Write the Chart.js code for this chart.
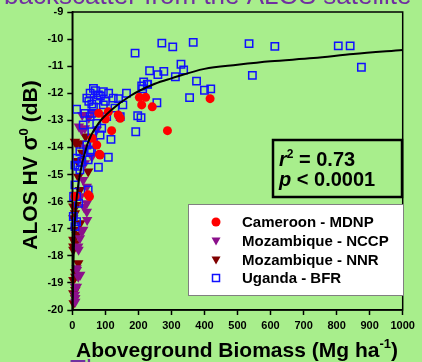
<!DOCTYPE html>
<html><head><meta charset="utf-8">
<script src="https://cdn.jsdelivr.net/npm/chart.js@4.4.0/dist/chart.umd.min.js"></script>
<style>html,body{margin:0;padding:0;background:#a8ee8c;overflow:hidden}canvas{display:block}</style>
</head><body>
<canvas id="c" width="422" height="362"></canvas>
<script>
// ---- data (biomass Mg/ha, backscatter dB) ----
const cameroonMDNP = [[203,-12.15],[222,-12.15],[210,-12.43],[242,-12.5],[417,-12.2],[288,-13.38],[119,-13.38],[109,-12.68],[139,-12.8],[74,-13.91],[84,-14.28],[48,-15.75],[8,-15.81],[82,-14.25],[52,-15.81],[80,-12.74],[145,-12.92],[60,-13.66],[100,-12.95]];
const mozambiqueNCCP = [[28,-13.35],[38,-13.29],[74,-13.35],[20,-13.23],[59,-14.34],[38,-14.58],[33,-15.2],[44,-15.45],[44,-16.06],[44,-16.37],[45,-16.68],[33,-17.04],[28,-17.1],[23,-17.35],[18,-17.66],[19,-17.78],[13,-18.46],[14,-18.52],[18,-18.77],[24,-18.7],[8,-19.14],[14,-19.14],[8,-19.44],[9,-19.56],[30,-12.8],[50,-12.9],[60,-12.7],[40,-14.0],[25,-15.8],[35,-16.2],[9,-19.7]];
const mozambiqueNNR = [[8,-13.79],[23,-13.85],[13,-13.85],[48,-14.89],[18,-15.08],[23,-15.57],[8,-15.75],[13,-16.12],[3,-16.18],[8,-16.43],[3,-16.61],[24,-16.8],[8,-17.04],[13,-17.23],[3,-17.41],[9,-17.54],[3,-17.66],[3,-17.78],[18,-18.27],[8,-18.6],[9,-18.77],[3,-18.89],[9,-19.26],[3,-19.38],[8,-19.56],[4,-19.75],[30,-14.2],[15,-14.5],[40,-13.6]];
const ugandaBFR = [[190,-10.52],[271,-10.15],[304,-10.29],[366,-10.12],[535,-10.17],[613,-10.27],[805,-10.25],[841,-10.25],[875,-11.04],[545,-11.34],[329,-10.93],[337,-11.14],[234,-11.17],[277,-11.19],[259,-11.31],[312,-11.39],[376,-11.55],[216,-11.58],[228,-11.67],[213,-11.84],[400,-11.89],[419,-11.84],[355,-12.16],[256,-12.35],[198,-12.83],[192,-13.42],[208,-12.9],[164,-12.0],[153,-12.43],[145,-12.86],
  [64,-11.82],[94,-11.94],[54,-12.0],[79,-12.06],[44,-12.18],[124,-12.18],[210,-11.73],[227,-11.66],[13,-12.59],[38,-12.74],[64,-12.5],[94,-12.43],[129,-12.55],[54,-12.86],[74,-13.11],[33,-13.17],[89,-13.29],[59,-13.42],[84,-13.54],[117,-13.7],[64,-13.85],[44,-13.91],[23,-14.16],[54,-14.16],[109,-14.36],[13,-14.4],[8,-14.65],[79,-14.73],[23,-14.83],[48,-14.46],[8,-15.38],[13,-15.81],[3,-16.55],[13,-16.74],[8,-16.92],[59,-12.4],[74,-12.25],[104,-12.86],[59,-12.74],[29,-14.52],[58,-14.09],[4,-15.81],[19,-16.06],[48,-15.57],[17,-14.7],[70,-11.9],[85,-12.1],[100,-12.3],[110,-12.0],[50,-12.3],[140,-12.2]];
const fitCurve = [[1,-20],[3,-18.5],[6,-17.2],[10,-16.3],[20,-15.2],[45,-13.9],[80,-13.1],[120,-12.6],[175,-12.1],[250,-11.65],[300,-11.45],[400,-11.1],[500,-10.95],[600,-10.82],[730,-10.7],[850,-10.55],[1000,-10.4]];
const seriesLabels = ['Cameroon - MDNP','Mozambique - NCCP','Mozambique - NNR','Uganda - BFR'];
const xRange = [0,1000,100];
const yRange = [-20,-9,1];
const statsLines = [['r','2',' = 0.73'],['p','',' < 0.0001']];
const topText = 'backscatter from the ALOS satellite';
const bottomText = 'The';

const FONT = '"Liberation Sans", Arial, Helvetica, sans-serif';
const BG = '#a8ee8c';
const toXY = a => a.map(p => ({x:p[0], y:p[1]}));

const deco = {
  id:'deco',
  beforeDraw(chart){
    const c = chart.ctx;
    c.save();
    c.fillStyle = BG; c.fillRect(0,0,chart.width,chart.height);
    c.fillStyle = '#7030a0';
    c.font = '26px ' + FONT;
    c.textBaseline = 'alphabetic'; c.textAlign = 'left';
    c.fillText(topText, 4, 4);
    c.fillText(bottomText, 70, 378);
    c.restore();
  },
  afterDraw(chart){
    const c = chart.ctx, a = chart.chartArea;
    c.save();
    // plot frame
    c.strokeStyle = '#000'; c.lineWidth = 1.5;
    c.strokeRect(a.left, a.top, a.right - a.left, a.bottom - a.top);
    // stats box
    c.lineWidth = 2.5;
    c.strokeRect(273, 140, 129, 57);
    c.fillStyle = '#000'; c.textBaseline = 'alphabetic'; c.textAlign = 'left';
    const bl = [166, 186];
    statsLines.forEach((ln, i) => {
      let x = 279;
      c.font = 'italic bold 20px ' + FONT; c.fillText(ln[0], x, bl[i]); x += c.measureText(ln[0]).width;
      if (ln[1]) { c.font = 'bold 12px ' + FONT; c.fillText(ln[1], x, bl[i] - 8); x += c.measureText(ln[1]).width; }
      c.font = 'bold 20px ' + FONT; c.fillText(ln[2], x, bl[i]);
    });
    // legend box
    c.fillStyle = '#fff'; c.fillRect(188, 204, 216, 92);
    c.strokeStyle = '#808080'; c.lineWidth = 1; c.strokeRect(188.5, 204.5, 215, 91);
    const rows = [222, 241, 260, 278];
    const ds = chart.data.datasets;
    c.font = 'bold 15px ' + FONT; c.textBaseline = 'middle';
    seriesLabels.forEach((lab, i) => {
      const y = rows[i], x = 216;
      const d = ds.find(s => s.label === lab);
      if (i === 0) { c.fillStyle = d.backgroundColor; c.beginPath(); c.arc(x, y, 4.5, 0, Math.PI*2); c.fill(); }
      else if (i < 3) { c.fillStyle = d.backgroundColor; c.beginPath(); c.moveTo(x-4.5, y-3.5); c.lineTo(x+4.5, y-3.5); c.lineTo(x, y+4.5); c.closePath(); c.fill(); }
      else { c.strokeStyle = d.borderColor; c.lineWidth = 1.5; c.strokeRect(x-3.5, y-3.5, 7, 7); }
      c.fillStyle = '#000'; c.fillText(lab, 242, y + 1);
    });
    // axis titles
    c.textBaseline = 'alphabetic';
    const drawSeg = (segs, cx, by) => {
      let w = 0;
      segs.forEach(s => { c.font = 'bold ' + s[1] + 'px ' + FONT; w += c.measureText(s[0]).width; });
      let x = cx - w/2;
      segs.forEach(s => { c.font = 'bold ' + s[1] + 'px ' + FONT; c.fillText(s[0], x, by - s[2]); x += c.measureText(s[0]).width; });
    };
    c.fillStyle = '#000';
    drawSeg([['Aboveground Biomass (Mg ha',21,0],['-1',13,9],[')',21,0]], 237, 357);
    c.save();
    c.translate(36.5, 165); c.rotate(-Math.PI/2);
    drawSeg([['ALOS HV ',21,0],['\u03C3',22,0],['0',13,9],[' (dB)',21,0]], 0, 0);
    c.restore();
    c.restore();
  }
};

new Chart(document.getElementById('c'), {
  data:{ datasets:[
    {type:'line', label:'fit', data:toXY(fitCurve), borderColor:'#000', borderWidth:2, pointRadius:0, cubicInterpolationMode:'monotone', fill:false, order:0, clip:false},
    {type:'scatter', label:seriesLabels[0], data:toXY(cameroonMDNP), pointStyle:'circle', pointRadius:4.5, backgroundColor:'#ff0000', borderColor:'#ff0000', borderWidth:0, order:1, clip:false},
    {type:'scatter', label:seriesLabels[1], data:toXY(mozambiqueNCCP), pointStyle:'triangle', rotation:180, pointRotation:180, pointRadius:6, backgroundColor:'#8b108b', borderColor:'#8b108b', borderWidth:0, order:3, clip:false},
    {type:'scatter', label:seriesLabels[2], data:toXY(mozambiqueNNR), pointStyle:'triangle', rotation:180, pointRotation:180, pointRadius:6, backgroundColor:'#800000', borderColor:'#800000', borderWidth:0, order:4, clip:false},
    {type:'scatter', label:seriesLabels[3], data:toXY(ugandaBFR), pointStyle:'rect', pointRadius:5.2, backgroundColor:'rgba(0,0,0,0)', borderColor:'#1010ff', borderWidth:1.5, order:2, clip:false}
  ]},
  options:{
    responsive:false, animation:false, devicePixelRatio:1,
    layout:{padding:{left:0, right:19.3, top:12, bottom:0}},
    plugins:{legend:{display:false}, tooltip:{enabled:false}},
    scales:{
      x:{type:'linear', min:xRange[0], max:xRange[1],
        ticks:{stepSize:xRange[2], color:'#000', font:{family:FONT, size:11, weight:'bold'}, padding:4, maxRotation:0, autoSkip:false, callback:v => String(v)},
        grid:{drawOnChartArea:false, drawTicks:true, tickLength:5, tickColor:'#000', tickWidth:1.5},
        border:{color:'#000', width:1.5},
        afterFit(s){ s.height = 52; }
      },
      y:{type:'linear', min:yRange[0], max:yRange[1],
        ticks:{stepSize:yRange[2], color:'#000', font:{family:FONT, size:11, weight:'bold'}, padding:4, callback:v => String(v)},
        grid:{drawOnChartArea:false, drawTicks:true, tickLength:5, tickColor:'#000', tickWidth:1.5},
        border:{color:'#000', width:1.5},
        afterFit(s){ s.width = 72.3; }
      }
    }
  },
  plugins:[deco]
});
</script>
</body></html>
